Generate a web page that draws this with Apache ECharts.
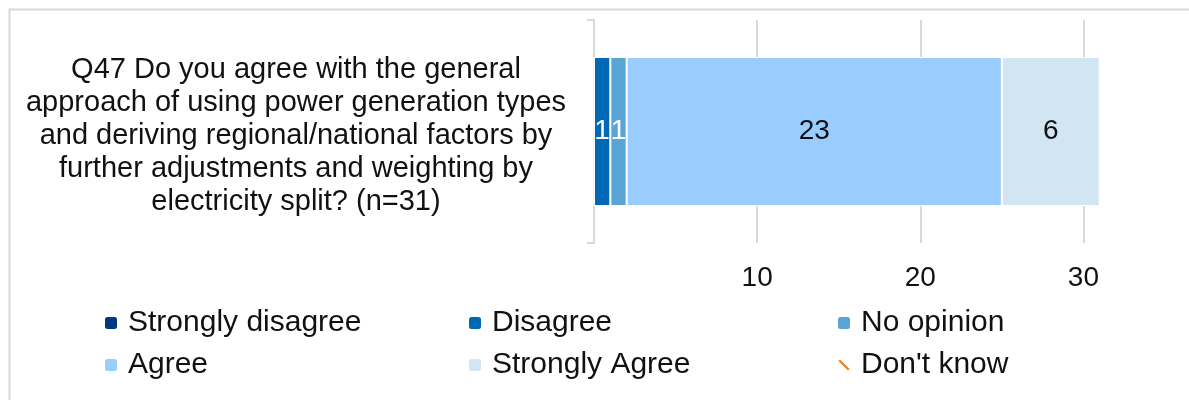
<!DOCTYPE html>
<html>
<head>
<meta charset="utf-8">
<script src="https://cdn.jsdelivr.net/npm/echarts@6/dist/echarts.min.js"></script>
<style>
  html, body { margin: 0; padding: 0; background: #ffffff; }
  #chart { width: 1189px; height: 400px; }
</style>
</head>
<body>
<div id="chart"></div>
<script>
// Survey question (one category, broken over five lines)
const categories = [
  'Q47 Do you agree with the general\napproach of using power generation types\nand deriving regional/national factors by\nfurther adjustments and weighting by\nelectricity split? (n=31)'
];

// Response counts per answer
const stronglyDisagree = [0];
const disagree = [1];
const noOpinion = [1];
const agree = [23];
const stronglyAgree = [6];
const dontKnow = [0];

const xTicks = [10, 20, 30];

const FONT = '"Liberation Sans", Arial, sans-serif';
const GRID_COLOR = '#d9d9d9';

function barSeries(name, data, color, labelColor) {
  return {
    name: name,
    type: 'bar',
    stack: 'total',
    barWidth: 149,
    data: data,
    itemStyle: { color: color, borderColor: '#ffffff', borderWidth: 1 },
    label: {
      show: true,
      position: 'inside',
      fontFamily: FONT,
      fontSize: 28,
      color: labelColor,
      formatter: function (p) { return p.value > 0 ? String(p.value) : ''; }
    },
    emphasis: { disabled: true }
  };
}

function legendColumn(left, names) {
  return {
    orient: 'vertical',
    left: left,
    top: 308,
    padding: 0,
    itemWidth: 14,
    itemHeight: 14,
    itemGap: 12,
    selectedMode: false,
    textStyle: { fontFamily: FONT, fontSize: 30, color: '#111111', padding: [0, 0, 0, 5] },
    data: names
  };
}

const chart = echarts.init(document.getElementById('chart'), null, { renderer: 'canvas' });

chart.setOption({
  animation: false,
  backgroundColor: '#ffffff',
  graphic: [{
    type: 'rect',
    left: 7, top: 7,
    shape: { width: 1200, height: 400 },
    style: { fill: 'none', stroke: GRID_COLOR, lineWidth: 2 },
    silent: true
  }],
  grid: { left: 594, right: 24, top: 20, bottom: 157, containLabel: false },
  xAxis: {
    type: 'value',
    min: 0,
    max: 35,
    interval: 10,
    axisLine: { show: false },
    axisTick: { show: false },
    axisLabel: {
      margin: 21,
      fontFamily: FONT,
      fontSize: 28,
      color: '#111111',
      showMaxLabel: false,
      formatter: function (v) { return xTicks.indexOf(v) >= 0 ? String(v) : ''; }
    },
    splitLine: {
      show: true,
      showMinLine: false,
      showMaxLine: false,
      lineStyle: { color: GRID_COLOR, width: 2 }
    }
  },
  yAxis: {
    type: 'category',
    data: categories,
    axisLine: { show: true, lineStyle: { color: GRID_COLOR, width: 2 } },
    axisTick: { show: true, length: 7, lineStyle: { color: GRID_COLOR, width: 2 } },
    axisLabel: {
      align: 'center',
      margin: 298,
      fontFamily: FONT,
      fontSize: 29,
      lineHeight: 33,
      color: '#111111',
      // small spacer line on top nudges the question block slightly downward
      formatter: function (v) { return '{pad|}\n' + v; },
      rich: { pad: { height: 9, lineHeight: 9, fontSize: 9 } }
    }
  },
  legend: [
    legendColumn(103, ['Strongly disagree', 'Agree']),
    legendColumn(467, ['Disagree', 'Strongly Agree']),
    legendColumn(836, ['No opinion', {
      name: "Don't know",
      icon: 'path://M0,3 L3,0 L14,11 L11,14 Z'
    }])
  ],
  series: [
    barSeries('Strongly disagree', stronglyDisagree, '#003882', '#ffffff'),
    barSeries('Disagree', disagree, '#0068B4', '#ffffff'),
    barSeries('No opinion', noOpinion, '#5BA5D6', '#ffffff'),
    barSeries('Agree', agree, '#99CCFF', '#111111'),
    barSeries('Strongly Agree', stronglyAgree, '#D2E5F3', '#111111'),
    barSeries("Don't know", dontKnow, '#E8801E', '#111111')
  ]
});
</script>
</body>
</html>
